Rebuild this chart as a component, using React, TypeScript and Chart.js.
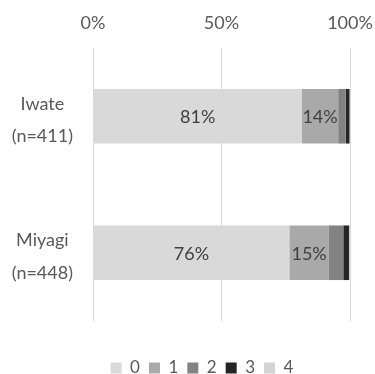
import React, { useEffect, useRef } from "react";
import { Chart, registerables } from "chart.js";

Chart.register(...registerables);

const categories: string[][] = [["Iwate", "(n=411)"], ["Miyagi", "(n=448)"]];
const seriesNames = ["0", "1", "2", "3", "4"];
const series0 = [81.3, 76.4];
const series1 = [14.1, 15.4];
const series2 = [2.9, 5.6];
const series3 = [1.5, 2.2];
const series4 = [0.2, 0.4];
const tickValues = [0, 50, 100];
const labeledSeries = [0, 1];

const colors = ["#d9d9d9", "#a9a9a9", "#828282", "#252525", "#d4d4d4"];
const FONT = "Lato, 'Open Sans', sans-serif";

const dataLabelPlugin = {
  id: "segLabels",
  afterLayout(chart: any) {
    if (chart.legend) {
      chart.legend.left += 27;
      chart.legend.right += 27;
    }
  },
  afterDatasetsDraw(chart: any) {
    const ctx = chart.ctx;
    ctx.save();
    ctx.font = `18px ${FONT}`;
    ctx.fillStyle = "#404040";
    ctx.textAlign = "center";
    ctx.textBaseline = "middle";
    labeledSeries.forEach((di) => {
      const meta = chart.getDatasetMeta(di);
      const ds = chart.data.datasets[di];
      meta.data.forEach((el: any, i: number) => {
        const cx = (el.x + el.base) / 2;
        ctx.fillText(`${Math.round(ds.data[i])}%`, cx, el.y + 1);
      });
    });
    ctx.restore();
  },
};

export default function App() {
  const ref = useRef<HTMLCanvasElement>(null);
  useEffect(() => {
    document.body.style.margin = "0";
    const all = [series0, series1, series2, series3, series4];
    const chart = new Chart(ref.current!, {
      type: "bar",
      data: {
        labels: categories,
        datasets: all.map((d, i) => ({
          label: seriesNames[i],
          data: d,
          backgroundColor: colors[i],
          borderWidth: 0,
          barPercentage: 0.4,
          categoryPercentage: 1,
        })),
      },
      options: {
        indexAxis: "y",
        animation: false,
        responsive: false,
        maintainAspectRatio: false,
        layout: { padding: { top: 0, left: 0, right: 25, bottom: -12.5 } },
        plugins: {
          tooltip: { enabled: false },
          legend: {
            position: "bottom",
            title: { display: true, text: "", font: { size: 1, lineHeight: 1 }, padding: { top: 28.5, bottom: 0 } },
            labels: {
              boxWidth: 11,
              boxHeight: 11,
              padding: 9,
              color: "#595959",
              font: { family: FONT, size: 17 },
            },
          },
        },
        scales: {
          x: {
            position: "top",
            stacked: true,
            min: 0,
            max: 100,
            afterBuildTicks: (scale: any) => {
              scale.ticks = tickValues.map((v) => ({ value: v }));
            },
            afterFit: (scale: any) => {
              scale.height = 48;
              scale.paddingLeft = 0;
              scale.paddingRight = 0;
            },
            ticks: {
              color: "#595959",
              font: { family: FONT, size: 18 },
              padding: 14,
              callback: (v: any) => `${v}%`,
            },
            grid: { color: "#d9d9d9", lineWidth: 1, drawTicks: false },
            border: { display: false },
          },
          y: {
            stacked: true,
            afterFit: (scale: any) => {
              scale.width = 93;
              scale.paddingTop = 0;
              scale.paddingBottom = 0;
            },
            ticks: {
              color: "#595959",
              font: { family: FONT, size: 18, lineHeight: 1.8 },
              crossAlign: "center",
              padding: 20,
              labelOffset: 4,
            },
            grid: { display: false, drawTicks: false },
            border: { display: false },
          },
        },
      },
      plugins: [dataLabelPlugin],
    } as any);
    return () => chart.destroy();
  }, []);
  return (
    <div style={{ position: "absolute", left: 0, top: 0, width: 375, height: 374 }}>
      <canvas ref={ref} width={375} height={374} style={{ width: 375, height: 374 }} />
    </div>
  );
}
